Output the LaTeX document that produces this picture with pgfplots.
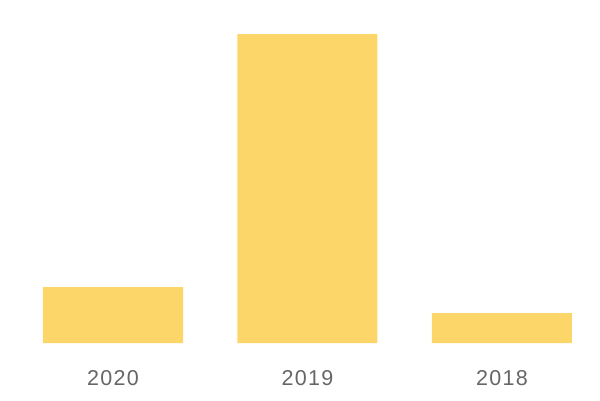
\documentclass[border=0pt]{standalone}
\usepackage{pgfplots}
\pgfplotsset{compat=1.18}
\usepackage{fontspec}
\setmainfont{Liberation Sans}
\newfontfamily\labfont[LetterSpace=6]{Liberation Sans}
\definecolor{barc}{HTML}{FDD66A}
\definecolor{lab}{HTML}{666666}
\begin{document}
\begin{tikzpicture}
\begin{axis}[
  scale only axis, width=600bp, height=400bp,
  xmin=-0.581, xmax=2.504, ymin=-57, ymax=343,
  axis line style={draw=none}, ytick=\empty,
  xtick={0,1,2}, xticklabels={2020,2019,2018},
  major tick length=0pt,
  xticklabel style={anchor=center, yshift=22bp, font=\labfont\fontsize{21.5bp}{24bp}\selectfont, text=lab},
  clip=false,
]
\addplot[ybar, bar width=140bp, fill=barc, draw=none] coordinates {(0,56) (1,309) (2,30)};
\end{axis}
\end{tikzpicture}
\end{document}
